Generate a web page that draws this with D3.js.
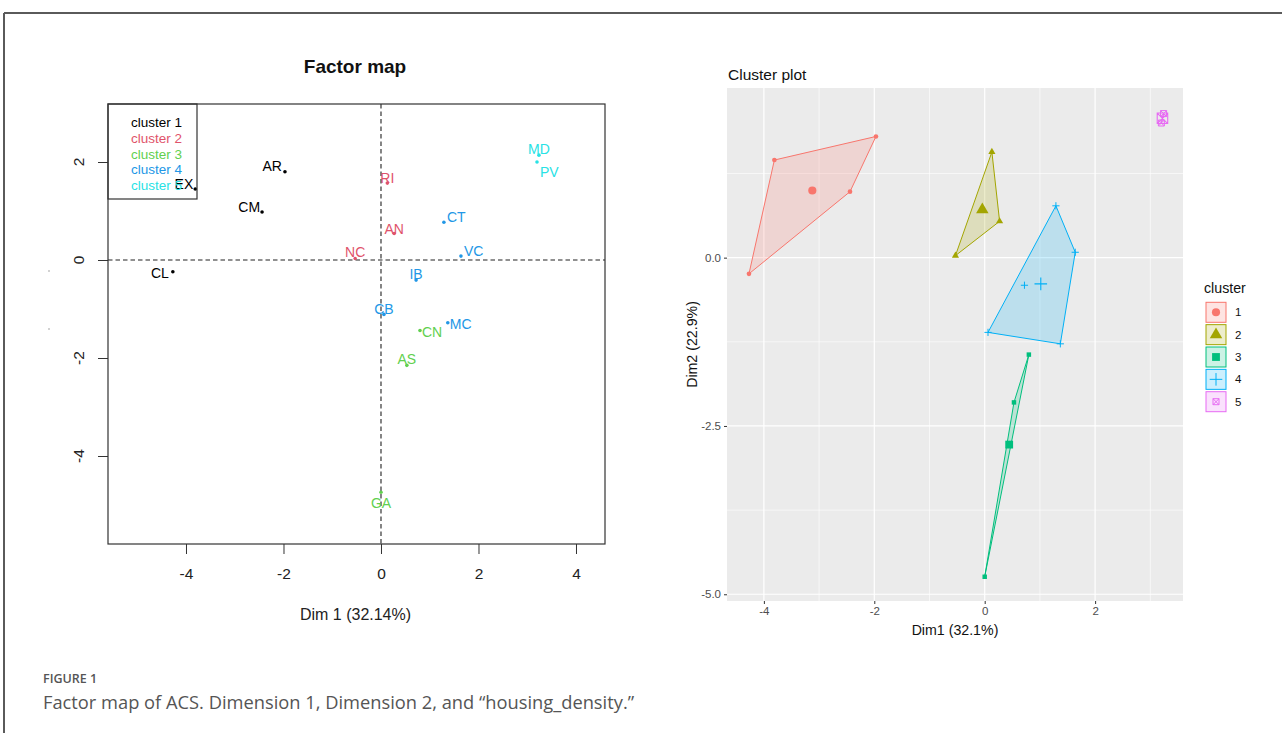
<!DOCTYPE html>
<html>
<head>
<meta charset="utf-8">
<script src="https://cdn.jsdelivr.net/npm/d3@7"></script>
<style>
  html, body { margin: 0; padding: 0; background: #fff; }
  svg { display: block; }
</style>
</head>
<body>
<svg id="fig" width="1282" height="733"></svg>
<script>
// ---- Observations: coordinates on the first two dimensions and cluster membership ----
const names   = ["AR", "EX", "CM", "CL", "NC", "RI", "AN", "MD", "PV", "CT", "VC", "IB", "CB", "MC", "CN", "AS", "GA"];
const dim1    = [-1.97, -3.81, -2.44, -4.27, -0.53, 0.13, 0.27, 3.24, 3.20, 1.29, 1.64, 0.72, 0.06, 1.37, 0.80, 0.53, 0.00];
const dim2    = [1.80, 1.45, 0.98, -0.24, 0.03, 1.57, 0.54, 2.14, 2.00, 0.77, 0.08, -0.41, -1.11, -1.28, -1.44, -2.15, -4.74];
const cluster = [1, 1, 1, 1, 2, 2, 2, 5, 5, 4, 4, 4, 4, 4, 3, 3, 3];

const clusterIds    = [1, 2, 3, 4, 5];
const clusterLabels = ["cluster 1", "cluster 2", "cluster 3", "cluster 4", "cluster 5"];

// Tick values
const leftXTicks  = [-4, -2, 0, 2, 4];
const leftYTicks  = [2, 0, -2, -4];
const rightXTicks = [-4, -2, 0, 2];
const rightXMinor = [-3, -1, 1, 3];
const rightYTicks = [0, -2.5, -5];
const rightYMinor = [1.25, -1.25, -3.75];

// Text
const leftTitle   = "Factor map";
const leftXTitle  = "Dim 1 (32.14%)";
const rightTitle  = "Cluster plot";
const rightXTitle = "Dim1 (32.1%)";
const rightYTitle = "Dim2 (22.9%)";
const legendTitle = "cluster";
const figLabel    = "FIGURE 1";
const figCaption  = "Factor map of ACS. Dimension 1, Dimension 2, and \u201chousing_density.\u201d";

const points = names.map((n, i) => ({ name: n, x: dim1[i], y: dim2[i], c: cluster[i] }));

// number formats with a plain hyphen as the minus sign
const fmtInt = v => d3.format("d")(v).replace("\u2212", "-");
const fmt1   = v => d3.format(".1f")(v).replace("\u2212", "-");

const svg = d3.select("#fig");
const FONT = "'Liberation Sans', Arial, Helvetica, sans-serif";

// ---- Outer frame ----
svg.append("line").attr("x1", 4).attr("x2", 1282).attr("y1", 13).attr("y2", 13)
  .attr("stroke", "#5a5a5a").attr("stroke-width", 2);
svg.append("line").attr("x1", 4).attr("x2", 4).attr("y1", 13).attr("y2", 733)
  .attr("stroke", "#5a5a5a").attr("stroke-width", 2);

// =====================  Left: factor map (base-graphics style)  =====================
const L = { left: 108, right: 605, top: 104, bottom: 544 };
const lx = d3.scaleLinear().domain([-5.6, 4.595]).range([L.left, L.right]);
const ly = d3.scaleLinear().domain([-5.796, 3.184]).range([L.bottom, L.top]);
const baseColors = d3.scaleOrdinal().domain(clusterIds)
  .range(["#000000", "#DF536B", "#61D04F", "#2297E6", "#28E2E5"]);

const gl = svg.append("g").attr("font-family", FONT);

gl.append("text").attr("x", 355).attr("y", 66)
  .attr("text-anchor", "middle").attr("dominant-baseline", "central")
  .attr("font-size", 19).attr("font-weight", "bold").attr("fill", "#111").text(leftTitle);

// reference lines through the origin
gl.append("line").attr("x1", L.left).attr("x2", L.right).attr("y1", ly(0)).attr("y2", ly(0))
  .attr("stroke", "#222").attr("stroke-dasharray", "4.5,3").attr("stroke-width", 1.1);
gl.append("line").attr("x1", lx(0)).attr("x2", lx(0)).attr("y1", L.top).attr("y2", L.bottom)
  .attr("stroke", "#222").attr("stroke-dasharray", "4.5,3").attr("stroke-width", 1.1);

// axes
const lxAxis = d3.axisBottom(lx).tickValues(leftXTicks).tickSize(10).tickPadding(14)
  .tickFormat(fmtInt);
const gxl = gl.append("g").attr("transform", `translate(0,${L.bottom})`).call(lxAxis);
gxl.select(".domain").remove();
gxl.selectAll("line").attr("stroke", "#333");
gxl.selectAll("text").attr("font-size", 15.5).attr("fill", "#222").attr("font-family", FONT);

const lyAxis = d3.axisLeft(ly).tickValues(leftYTicks).tickSize(10).tickFormat(fmtInt);
const gyl = gl.append("g").attr("transform", `translate(${L.left},0)`).call(lyAxis);
gyl.select(".domain").remove();
gyl.selectAll("line").attr("stroke", "#333");
gyl.selectAll("text").remove();
gl.selectAll(".ytl").data(leftYTicks).join("text").attr("class", "ytl")
  .attr("transform", d => `translate(78,${ly(d)}) rotate(-90)`)
  .attr("text-anchor", "middle").attr("dominant-baseline", "central")
  .attr("font-size", 15.5).attr("fill", "#222").text(fmtInt);

gl.append("text").attr("x", 355.5).attr("y", 614)
  .attr("text-anchor", "middle").attr("dominant-baseline", "central")
  .attr("font-size", 16).attr("fill", "#222").text(leftXTitle);

// stray marks in the margin
gl.selectAll(".stray").data([271, 329]).join("circle").attr("class", "stray")
  .attr("cx", 49).attr("cy", d => d).attr("r", 0.8).attr("fill", "#999");

// plot box
gl.append("rect").attr("x", L.left).attr("y", L.top)
  .attr("width", L.right - L.left).attr("height", L.bottom - L.top)
  .attr("fill", "none").attr("stroke", "#333").attr("stroke-width", 1.2);

// label placement around each point: [dx, dy, anchor]
const labelPlace = {
  AR: [-3, -6, "end"], EX: [-2, -5, "end"], CM: [-2, -5, "end"], CL: [-4, 1, "end"],
  NC: [0, -7, "middle"], RI: [0, -5, "middle"], AN: [0, -5, "middle"],
  MD: [0, -6, "middle"], PV: [3, 10, "start"], CT: [3, -5, "start"], VC: [3, -5, "start"],
  IB: [0, -6, "middle"], CB: [0, -5, "middle"], MC: [2, 1, "start"], CN: [2, 1, "start"],
  AS: [0, -6, "middle"], GA: [0, 11, "middle"]
};

gl.selectAll(".pt").data(points).join("circle").attr("class", "pt")
  .attr("cx", d => lx(d.x)).attr("cy", d => ly(d.y)).attr("r", 1.8)
  .attr("fill", d => baseColors(d.c));
gl.selectAll(".lab").data(points).join("text").attr("class", "lab")
  .attr("x", d => lx(d.x) + labelPlace[d.name][0])
  .attr("y", d => ly(d.y) + labelPlace[d.name][1])
  .attr("text-anchor", d => labelPlace[d.name][2])
  .attr("dominant-baseline", "central")
  .attr("font-size", 14).attr("fill", d => baseColors(d.c)).text(d => d.name);

// legend box
const lg = gl.append("g");
lg.append("rect").attr("x", L.left).attr("y", L.top).attr("width", 89).attr("height", 95)
  .attr("fill", "none").attr("stroke", "#333").attr("stroke-width", 1.2);
lg.selectAll("text").data(clusterIds).join("text")
  .attr("x", 131).attr("y", (d, i) => 122.3 + i * 15.85)
  .attr("dominant-baseline", "central").attr("font-size", 13.5)
  .attr("fill", d => baseColors(d)).text((d, i) => clusterLabels[i]);

// =====================  Right: cluster plot (grid style)  =====================
const R = { left: 727, right: 1183, top: 88, bottom: 601 };
const rx = d3.scaleLinear().domain([-4.668, 3.592]).range([R.left, R.right]);
const ry = d3.scaleLinear().domain([-5.10, 2.52]).range([R.bottom, R.top]);
const hue = d3.scaleOrdinal().domain(clusterIds)
  .range(["#F8766D", "#A3A500", "#00BF7D", "#00B0F6", "#E76BF3"]);

const gr = svg.append("g").attr("font-family", FONT);

gr.append("text").attr("x", R.left + 1).attr("y", 74).attr("dominant-baseline", "central")
  .attr("font-size", 15.5).attr("fill", "#111").text(rightTitle);

gr.append("rect").attr("x", R.left).attr("y", R.top)
  .attr("width", R.right - R.left).attr("height", R.bottom - R.top).attr("fill", "#EBEBEB");

// grid lines
gr.selectAll(".gxm").data(rightXMinor).join("line").attr("class", "gxm")
  .attr("x1", d => rx(d)).attr("x2", d => rx(d)).attr("y1", R.top).attr("y2", R.bottom)
  .attr("stroke", "#fff").attr("stroke-width", 0.6);
gr.selectAll(".gym").data(rightYMinor).join("line").attr("class", "gym")
  .attr("y1", d => ry(d)).attr("y2", d => ry(d)).attr("x1", R.left).attr("x2", R.right)
  .attr("stroke", "#fff").attr("stroke-width", 0.6);
gr.selectAll(".gx").data(rightXTicks).join("line").attr("class", "gx")
  .attr("x1", d => rx(d)).attr("x2", d => rx(d)).attr("y1", R.top).attr("y2", R.bottom)
  .attr("stroke", "#fff").attr("stroke-width", 1.2);
gr.selectAll(".gy").data(rightYTicks).join("line").attr("class", "gy")
  .attr("y1", d => ry(d)).attr("y2", d => ry(d)).attr("x1", R.left).attr("x2", R.right)
  .attr("stroke", "#fff").attr("stroke-width", 1.2);

// axes
const rxAxis = d3.axisBottom(rx).tickValues(rightXTicks).tickSize(3).tickPadding(3)
  .tickFormat(fmtInt);
const gxr = gr.append("g").attr("transform", `translate(0,${R.bottom})`).call(rxAxis);
gxr.select(".domain").remove();
gxr.selectAll("line").attr("stroke", "#333");
gxr.selectAll("text").attr("font-size", 11.5).attr("fill", "#4D4D4D").attr("font-family", FONT);

const ryAxis = d3.axisLeft(ry).tickValues(rightYTicks).tickSize(3).tickPadding(3)
  .tickFormat(fmt1);
const gyr = gr.append("g").attr("transform", `translate(${R.left},0)`).call(ryAxis);
gyr.select(".domain").remove();
gyr.selectAll("line").attr("stroke", "#333");
gyr.selectAll("text").attr("font-size", 11.5).attr("fill", "#4D4D4D").attr("font-family", FONT);

gr.append("text").attr("x", (R.left + R.right) / 2).attr("y", 630)
  .attr("text-anchor", "middle").attr("dominant-baseline", "central")
  .attr("font-size", 14.2).attr("fill", "#111").text(rightXTitle);
gr.append("text").attr("transform", `translate(692,${(R.top + R.bottom) / 2}) rotate(-90)`)
  .attr("text-anchor", "middle").attr("dominant-baseline", "central")
  .attr("font-size", 14.2).attr("fill", "#111").text(rightYTitle);

// point shapes per cluster
function shapePath(c, big) {
  const s = big ? 1.75 : 1;
  if (c === 1) return d3.symbol(d3.symbolCircle, 17 * s * s)();
  if (c === 2) return d3.symbol(d3.symbolTriangle, 22 * s * s)();
  if (c === 3) return d3.symbol(d3.symbolSquare, 20 * s * s)();
  if (c === 4) { const h = 3.6 * s; return `M${-h},0H${h}M0,${-h}V${h}`; }
  const h = 3.0 * s; // open square with a cross inside
  return `M${-h},${-h}H${h}V${h}H${-h}Z M${-h},${-h}L${h},${h} M${h},${-h}L${-h},${h}`;
}
const isOpen = c => c === 4 || c === 5;

const groups = clusterIds.map(id => {
  const pts = points.filter(p => p.c === id);
  const cx = d3.mean(pts, p => p.x), cy = d3.mean(pts, p => p.y);
  return { id, pts, cx, cy };
});

// convex hulls
const plot = gr.append("g");
groups.forEach(g => {
  const px = g.pts.map(p => [rx(p.x), ry(p.y)]);
  const hull = px.length >= 3 ? d3.polygonHull(px) : px;
  plot.append("path").attr("d", "M" + hull.join("L") + "Z")
    .attr("fill", hue(g.id)).attr("fill-opacity", 0.2)
    .attr("stroke", hue(g.id)).attr("stroke-width", 1).attr("stroke-linejoin", "round");
});

// observations
groups.forEach(g => {
  plot.selectAll(null).data(g.pts).join("path")
    .attr("transform", p => `translate(${rx(p.x)},${ry(p.y)})`)
    .attr("d", shapePath(g.id, false))
    .attr("fill", isOpen(g.id) ? "none" : hue(g.id))
    .attr("stroke", isOpen(g.id) ? hue(g.id) : "none").attr("stroke-width", 1);
  // cluster centre
  plot.append("path").attr("transform", `translate(${rx(g.cx)},${ry(g.cy)})`)
    .attr("d", shapePath(g.id, true))
    .attr("fill", isOpen(g.id) ? "none" : hue(g.id))
    .attr("stroke", isOpen(g.id) ? hue(g.id) : "none").attr("stroke-width", 1.1);
});

// legend
const rl = gr.append("g");
rl.append("text").attr("x", 1204).attr("y", 287.5).attr("dominant-baseline", "central")
  .attr("font-size", 14.2).attr("fill", "#111").text(legendTitle);
const keys = rl.selectAll(".key").data(clusterIds).join("g").attr("class", "key")
  .attr("transform", (d, i) => `translate(1216,${312.3 + i * 22.35})`);
keys.append("rect").attr("x", -10).attr("y", -10).attr("width", 20).attr("height", 20)
  .attr("fill", d => hue(d)).attr("fill-opacity", 0.2)
  .attr("stroke", d => hue(d)).attr("stroke-width", 1);
keys.append("path").attr("d", d => shapePath(d, d !== 5))
  .attr("fill", d => isOpen(d) ? "none" : hue(d))
  .attr("stroke", d => isOpen(d) ? hue(d) : "none").attr("stroke-width", 1);
keys.append("text").attr("x", 19).attr("y", 0).attr("dominant-baseline", "central")
  .attr("font-size", 11.5).attr("fill", "#111").text(d => d);

// ---- Caption ----
svg.append("text").attr("x", 43).attr("y", 683)
  .attr("font-family", "'Open Sans', 'Noto Sans', sans-serif").attr("font-size", 12.5)
  .attr("font-weight", 600).attr("fill", "#555").text(figLabel);
svg.append("text").attr("x", 43).attr("y", 709)
  .attr("font-family", "'Open Sans', 'Noto Sans', sans-serif").attr("font-size", 18.3)
  .attr("fill", "#555").text(figCaption);
</script>
</body>
</html>
